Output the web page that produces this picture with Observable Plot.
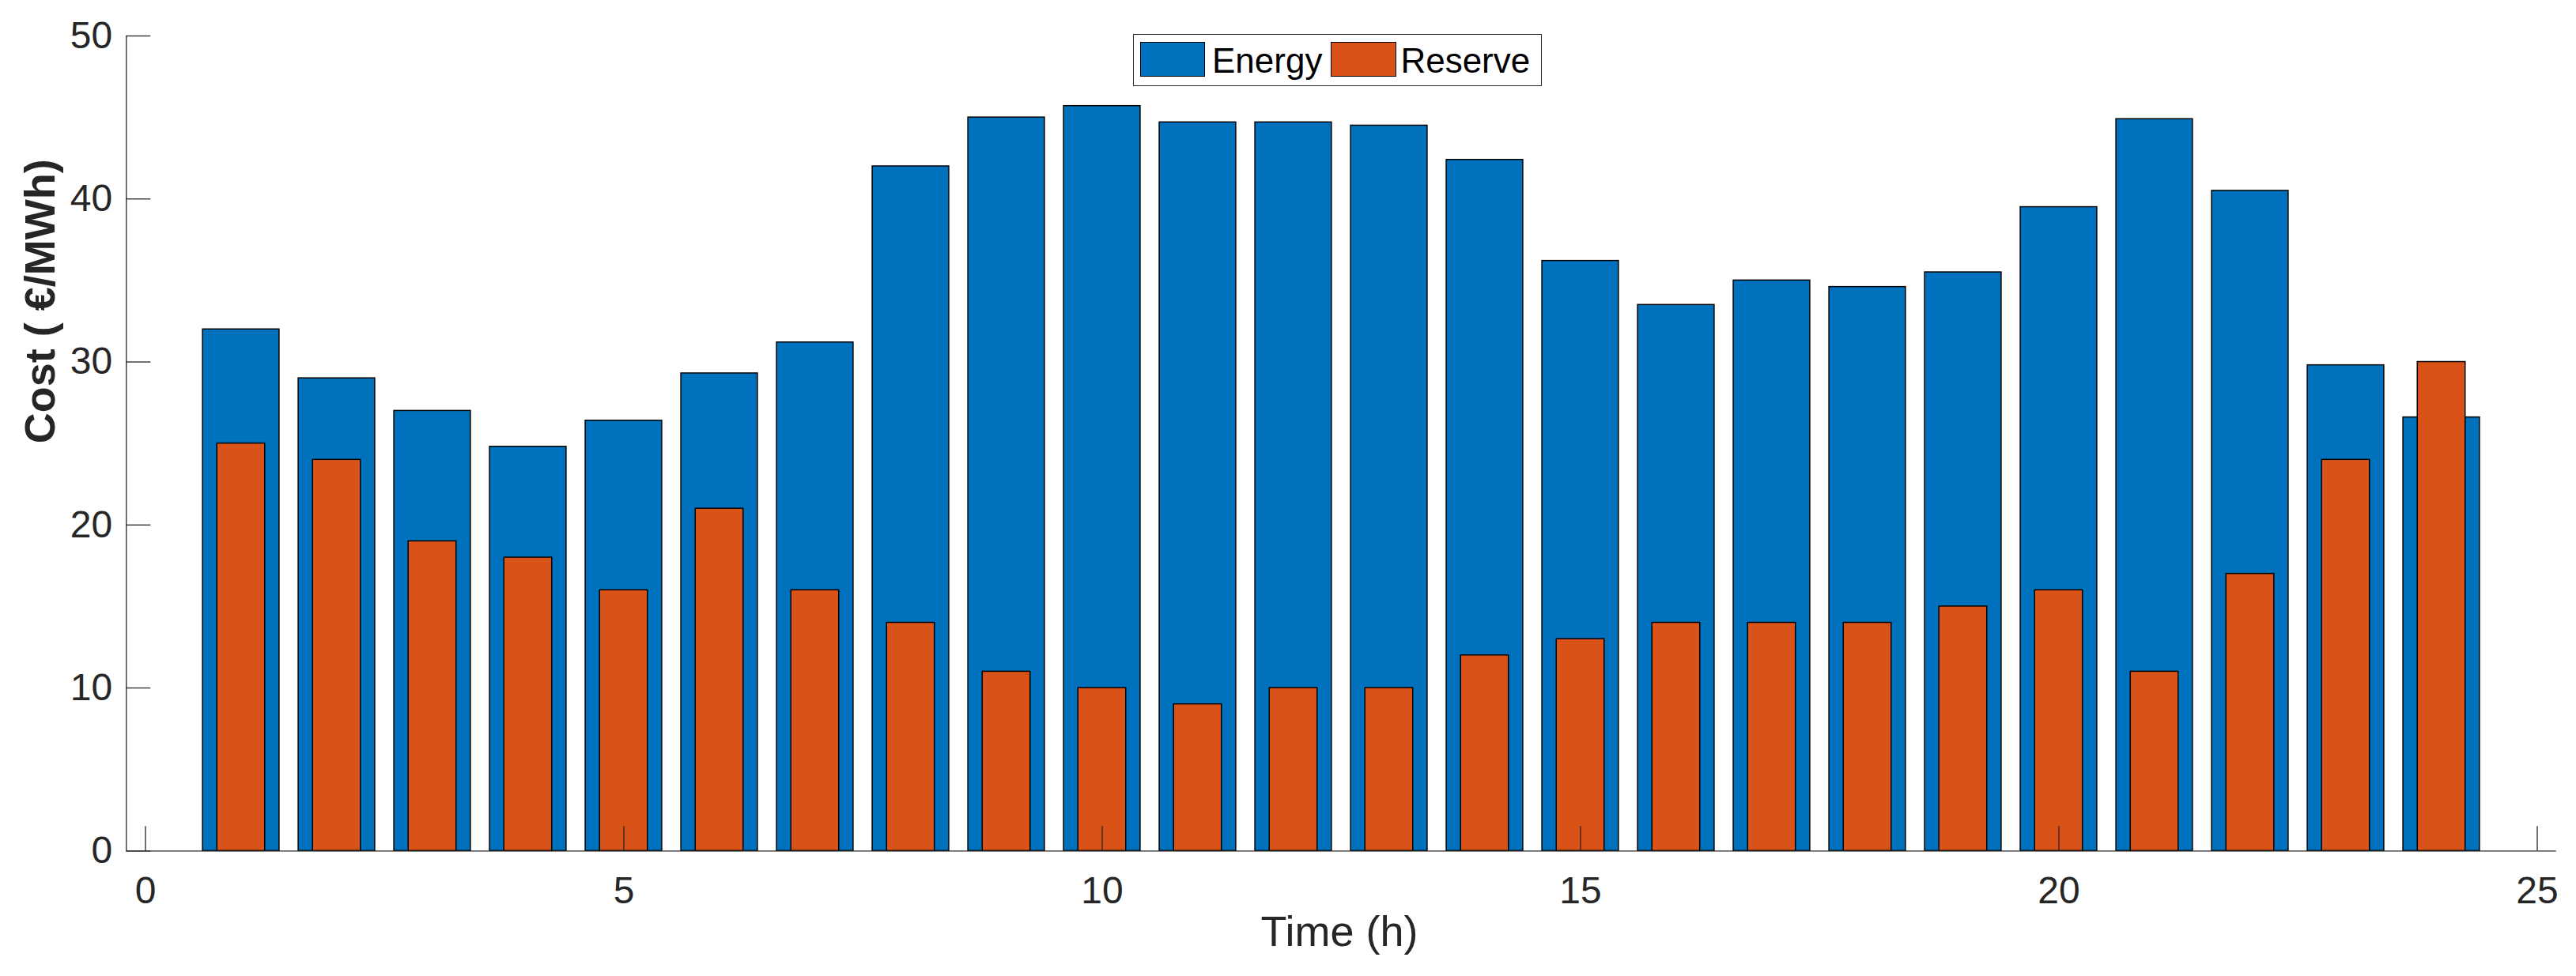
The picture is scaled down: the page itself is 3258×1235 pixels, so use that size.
<!DOCTYPE html>
<html>
<head>
<meta charset="utf-8">
<script src="https://cdn.jsdelivr.net/npm/d3@7"></script>
<script src="https://cdn.jsdelivr.net/npm/@observablehq/plot@0.6"></script>
<style>
  body { margin: 0; background: #fff; }
  #wrap { position: relative; width: 3258px; height: 1235px; font-family: "Liberation Sans", Arial, sans-serif; }
  #legend { position: absolute; left: 1433.3px; top: 43.3px; width: 516.7px; height: 65.7px; box-sizing: border-box;
            border: 1.3px solid #262626; background: #fff; }
  .sw { position: absolute; top: 8.7px; height: 44px; box-sizing: border-box; border: 1.3px solid #000; }
  .lt { position: absolute; top: 10.4px; font-size: 44px; line-height: 44px; color: #000; white-space: nowrap; }
</style>
</head>
<body>
<div id="wrap"></div>
<script>
const hours   = [1,2,3,4,5,6,7,8,9,10,11,12,13,14,15,16,17,18,19,20,21,22,23,24];
const energy  = [32.0,29.0,27.0,24.8,26.4,29.3,31.2,42.0,45.0,45.7,44.7,44.7,44.5,42.4,36.2,33.5,35.0,34.6,35.5,39.5,44.9,40.5,29.8,26.6];
const reserve = [25,24,19,18,16,21,16,14,11,10,9,10,10,12,13,14,14,14,15,16,11,17,24,30];
const xTicks  = [0,5,10,15,20,25];
const yTicks  = [0,10,20,30,40,50];
const xDomain = [-0.2, 25.2];
const yDomain = [0, 50];
const seriesNames  = ["Energy", "Reserve"];
const seriesColors = ["#0072BD", "#D95319"];
const xTitle = "Time (h)";
const yTitle = "Cost ( €/MWh)";

const rows = hours.map((t, i) => ({t, energy: energy[i], reserve: reserve[i]}));
const axisColor = "#262626";

const chart = Plot.plot({
  width: 3258,
  height: 1235,
  marginLeft: 159.3,
  marginRight: 25.3,
  marginTop: 45,
  marginBottom: 158.7,
  style: {fontFamily: '"Liberation Sans", Arial, sans-serif', color: axisColor, background: "#fff"},
  x: {type: "linear", domain: xDomain},
  y: {type: "linear", domain: yDomain},
  marks: [
    Plot.rect(rows, {x1: d => d.t - 0.4, x2: d => d.t + 0.4, y1: () => 0, y2: "energy",
      fill: seriesColors[0], stroke: "#000", strokeWidth: 1.5}),
    Plot.rect(rows, {x1: d => d.t - 0.25, x2: d => d.t + 0.25, y1: () => 0, y2: "reserve",
      fill: seriesColors[1], stroke: "#000", strokeWidth: 1.5}),
    Plot.ruleY([yDomain[0]], {stroke: axisColor, strokeWidth: 1.3}),
    Plot.ruleX([xDomain[0]], {stroke: axisColor, strokeWidth: 1.3}),
    Plot.axisX({ticks: xTicks, tickSize: -31, tickPadding: 63, fontSize: 48, label: null, tickFormat: d => String(d), strokeWidth: 1.3}),
    Plot.axisY({ticks: yTicks, tickSize: -31, tickPadding: 48.6, fontSize: 48, label: null, tickFormat: d => String(d), strokeWidth: 1.3}),
    Plot.text([xTitle], {text: d => d, frameAnchor: "bottom", dy: 120.4, dx: -2.5, fontSize: 54, fill: axisColor}),
    Plot.text([yTitle], {text: d => d, frameAnchor: "left", dx: -108, rotate: -90, fontSize: 54, fontWeight: "bold", fill: axisColor})
  ]
});

const wrap = document.getElementById("wrap");
wrap.appendChild(chart);

const legend = document.createElement("div");
legend.id = "legend";
const swLeft = [7.7, 248.7];
const swWidth = [82, 83];
const txLeft = [98.7, 337.1];
seriesNames.forEach((name, i) => {
  const sw = document.createElement("div");
  sw.className = "sw";
  sw.style.left = swLeft[i] + "px";
  sw.style.width = swWidth[i] + "px";
  sw.style.background = seriesColors[i];
  legend.appendChild(sw);
  const tx = document.createElement("div");
  tx.className = "lt";
  tx.style.left = txLeft[i] + "px";
  tx.textContent = name;
  legend.appendChild(tx);
});
wrap.appendChild(legend);
</script>
</body>
</html>
